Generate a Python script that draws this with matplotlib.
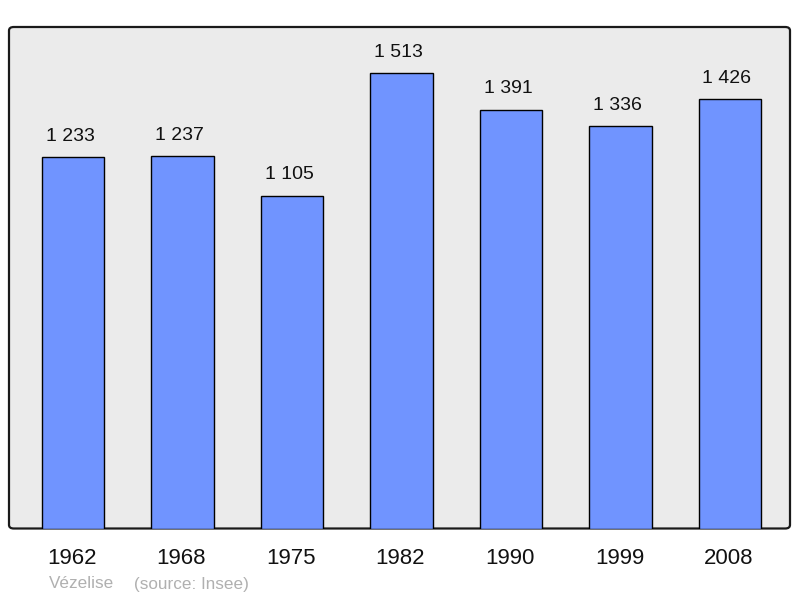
import matplotlib.pyplot as plt
from matplotlib.patches import FancyBboxPatch

plt.rcParams['font.family'] = ['Liberation Sans', 'DejaVu Sans']

years = ['1962', '1968', '1975', '1982', '1990', '1999', '2008']
population = [1233, 1237, 1105, 1513, 1391, 1336, 1426]
value_labels = ['1 233', '1 237', '1 105', '1 513', '1 391', '1 336', '1 426']

W, H = 800, 598
fig = plt.figure(figsize=(W / 100, H / 100), dpi=100)

# axes box in pixels: x 9..790, y 27..528.5
left, right, top, bottom = 9, 790, 27, 528.5
ax = fig.add_axes([left / W, 1 - bottom / H, (right - left) / W, (bottom - top) / H])
ax.set_facecolor('none')
ax.set_zorder(2)

# rounded grey background box
bg = FancyBboxPatch((left / W, 1 - bottom / H), (right - left) / W, (bottom - top) / H,
                    boxstyle='round,pad=0,rounding_size=0.006',
                    transform=fig.transFigure, facecolor='#ebebeb',
                    edgecolor='#1a1a1a', linewidth=1.6, zorder=-1)
fig.patches.append(bg)

x = range(len(years))
ax.bar(x, population, width=0.57, color='#7094ff', edgecolor='#000000',
       linewidth=1.0, zorder=2)

for i, (v, lab) in enumerate(zip(population, value_labels)):
    ax.annotate(lab, (i, v), xytext=(-3, 21), textcoords='offset pixels',
                ha='center', va='center', fontsize=14, color='#111111')

ax.set_xlim(-0.584, 6.548)
ax.set_ylim(0, 1666)
ax.axis('off')

for i, yr in enumerate(years):
    ax.annotate(yr, (i, 0), xytext=(-1, -30), textcoords='offset pixels',
                ha='center', va='center', fontsize=16, color='#111111',
                annotation_clip=False)

fig.text(49 / W, 1 - 584 / H, 'Vézelise', ha='left', va='center',
         fontsize=12.3, color='#b0b0b0')
fig.text(134 / W, 1 - 584 / H, '(source: Insee)', ha='left', va='center',
         fontsize=12.3, color='#b0b0b0')

fig.savefig('out.png', dpi=100)
